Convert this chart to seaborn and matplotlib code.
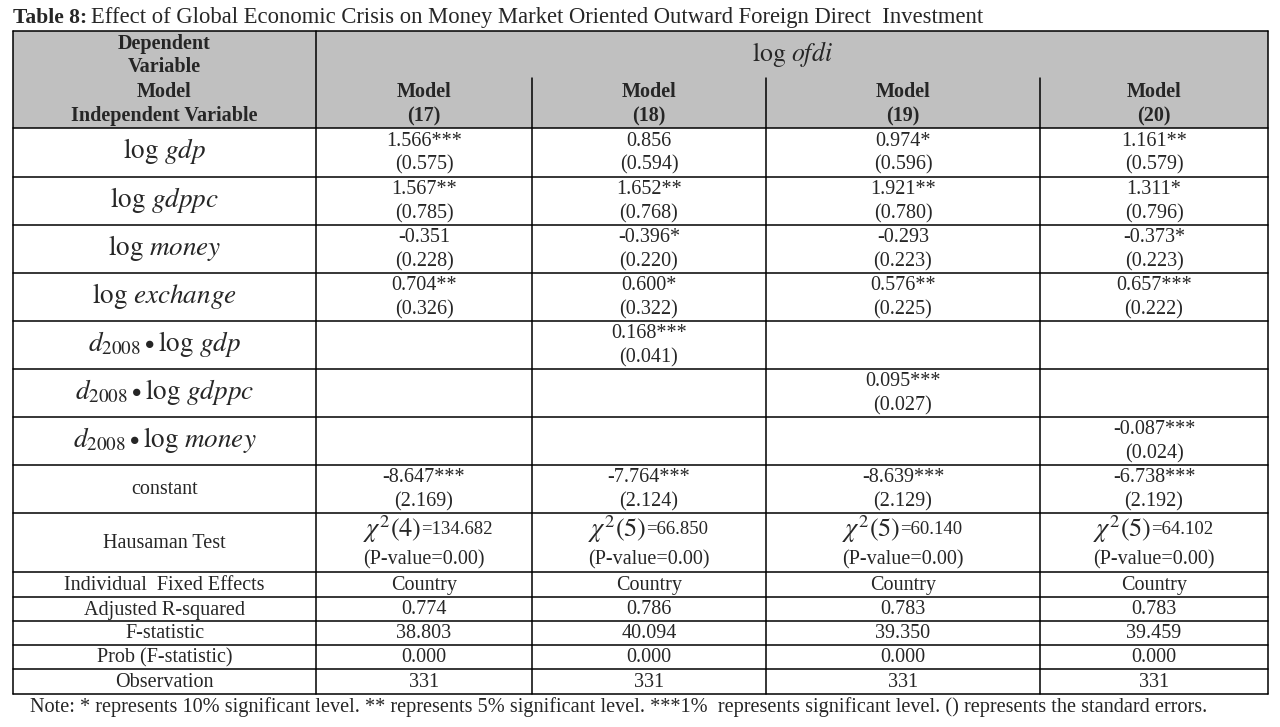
import matplotlib
matplotlib.use("Agg")
import matplotlib.pyplot as plt
import seaborn as sns

# table content
models = ["(17)", "(18)", "(19)", "(20)"]

var_labels = [r"$\log\,gdp$", r"$\log\,gdppc$", r"$\log\,money$", r"$\log\,exchange$",
              r"$d_{2008}\bullet\log\,gdp$", r"$d_{2008}\bullet\log\,gdppc$",
              r"$d_{2008}\bullet\log\,money$"]
gdp_coef = ["1.566***", "0.856", "0.974*", "1.161**"]
gdp_se = ["(0.575)", "(0.594)", "(0.596)", "(0.579)"]
gdppc_coef = ["1.567**", "1.652**", "1.921**", "1.311*"]
gdppc_se = ["(0.785)", "(0.768)", "(0.780)", "(0.796)"]
money_coef = ["-0.351", "-0.396*", "-0.293", "-0.373*"]
money_se = ["(0.228)", "(0.220)", "(0.223)", "(0.223)"]
exch_coef = ["0.704**", "0.600*", "0.576**", "0.657***"]
exch_se = ["(0.326)", "(0.322)", "(0.225)", "(0.222)"]
d_gdp_coef = ["", "0.168***", "", ""]
d_gdp_se = ["", "(0.041)", "", ""]
d_gdppc_coef = ["", "", "0.095***", ""]
d_gdppc_se = ["", "", "(0.027)", ""]
d_money_coef = ["", "", "", "-0.087***"]
d_money_se = ["", "", "", "(0.024)"]
const_coef = ["-8.647***", "-7.764***", "-8.639***", "-6.738***"]
const_se = ["(2.169)", "(2.124)", "(2.129)", "(2.192)"]

chi_df = [4, 5, 5, 5]
chi_stat = ["134.682", "66.850", "60.140", "64.102"]
p_value = ["(P-value=0.00)"] * 4

stat_labels = ["Individual  Fixed Effects", "Adjusted R-squared", "F-statistic",
               "Prob (F-statistic)", "Observation"]
fixed_eff = ["Country"] * 4
adj_r2 = ["0.774", "0.786", "0.783", "0.783"]
f_stat = ["38.803", "40.094", "39.350", "39.459"]
prob_f = ["0.000"] * 4
nobs = ["331"] * 4

sns.set_style("white")
plt.rcParams["font.family"] = ["Liberation Serif", "DejaVu Serif"]
plt.rcParams["mathtext.fontset"] = "stix"

fig = plt.figure(figsize=(12.8, 7.27), dpi=100)
ax = fig.add_axes([0, 0, 1, 1])
ax.set_xlim(0, 1280)
ax.set_ylim(727, 0)
ax.axis("off")

fs = 14.5
xcols = [13, 316, 532, 766, 1040, 1268]
centers = [(xcols[i] + xcols[i + 1]) / 2 for i in range(5)]
top, head_mid, head_bot = 31, 78, 128
coef_rows = [128, 177, 225, 273, 321, 369, 417, 465, 513]
stat_rows = [572, 597, 621, 645, 669, 694]
bottom = 694

# header shading
ax.add_patch(plt.Rectangle((xcols[0], top), xcols[-1] - xcols[0], head_bot - top,
                           facecolor="#c0c0c0", edgecolor="none", zorder=0))

lc = dict(color="black", lw=1.1, zorder=2)
# horizontal lines
for y in [top, head_bot] + coef_rows[1:] + stat_rows:
    ax.plot([xcols[0], xcols[-1]], [y, y], **lc)
# vertical lines
for x in [xcols[0], xcols[1], xcols[-1]]:
    ax.plot([x, x], [top, bottom], **lc)
for x in xcols[2:-1]:
    ax.plot([x, x], [head_mid, bottom], **lc)

# title
t1 = ax.text(13, 18, "Table 8:", fontsize=15.5, fontweight="bold", va="center", ha="left")
ax.annotate("Effect of Global Economic Crisis on Money Market Oriented Outward Foreign Direct  Investment",
            xy=(1, 0.5), xycoords=t1, xytext=(3, 0), textcoords="offset points",
            fontsize=16.3, va="center", ha="left")

# header text
for y, s in zip([44, 67, 92, 116], ["Dependent", "Variable", "Model", "Independent Variable"]):
    ax.text(centers[0], y, s, fontsize=fs, fontweight="bold", ha="center", va="center")
ax.text((xcols[1] + xcols[-1]) / 2, 54, r"$\log\,ofdi$", fontsize=18.5, ha="center", va="center")
for i, m in enumerate(models):
    ax.text(centers[i + 1], 92, "Model", fontsize=fs, fontweight="bold", ha="center", va="center")
    ax.text(centers[i + 1], 116, m, fontsize=fs, fontweight="bold", ha="center", va="center")

# coefficient rows
coefs = [gdp_coef, gdppc_coef, money_coef, exch_coef, d_gdp_coef, d_gdppc_coef,
         d_money_coef, const_coef]
ses = [gdp_se, gdppc_se, money_se, exch_se, d_gdp_se, d_gdppc_se, d_money_se, const_se]
labels = var_labels + ["constant"]
for r in range(8):
    y0 = coef_rows[r]
    if r < 7:
        ax.text(centers[0], y0 + 23, labels[r], fontsize=19.5, ha="center", va="center")
    else:
        ax.text(centers[0], y0 + 24, labels[r], fontsize=fs, ha="center", va="center")
    for i in range(4):
        ax.text(centers[i + 1], y0 + 13, coefs[r][i], fontsize=fs, ha="center", va="center")
        ax.text(centers[i + 1], y0 + 37, ses[r][i], fontsize=fs, ha="center", va="center")

# Hausman row
y0 = coef_rows[-1]
ax.text(centers[0], y0 + 30, "Hausaman Test", fontsize=fs, ha="center", va="center")
for i in range(4):
    xe = centers[i + 1] - 3
    ax.text(xe, y0 + 16, r"$\chi^2(%d)$" % chi_df[i], fontsize=19, ha="right", va="center")
    ax.text(xe, y0 + 17, "=" + chi_stat[i], fontsize=13.5, ha="left", va="center")
    ax.text(centers[i + 1], y0 + 47, p_value[i], fontsize=fs, ha="center", va="center")

# stats rows
stats = [fixed_eff, adj_r2, f_stat, prob_f, nobs]
for r in range(5):
    yc = (stat_rows[r] + stat_rows[r + 1]) / 2 + 1
    ax.text(centers[0], yc, stat_labels[r], fontsize=fs, ha="center", va="center")
    for i in range(4):
        ax.text(centers[i + 1], yc, stats[r][i], fontsize=fs, ha="center", va="center")

ax.text(30, 707, "Note: * represents 10% significant level. ** represents 5% significant level. "
        "***1%  represents significant level. () represents the standard errors.",
        fontsize=14.6, ha="left", va="center")

fig.savefig("out.png", dpi=100)
